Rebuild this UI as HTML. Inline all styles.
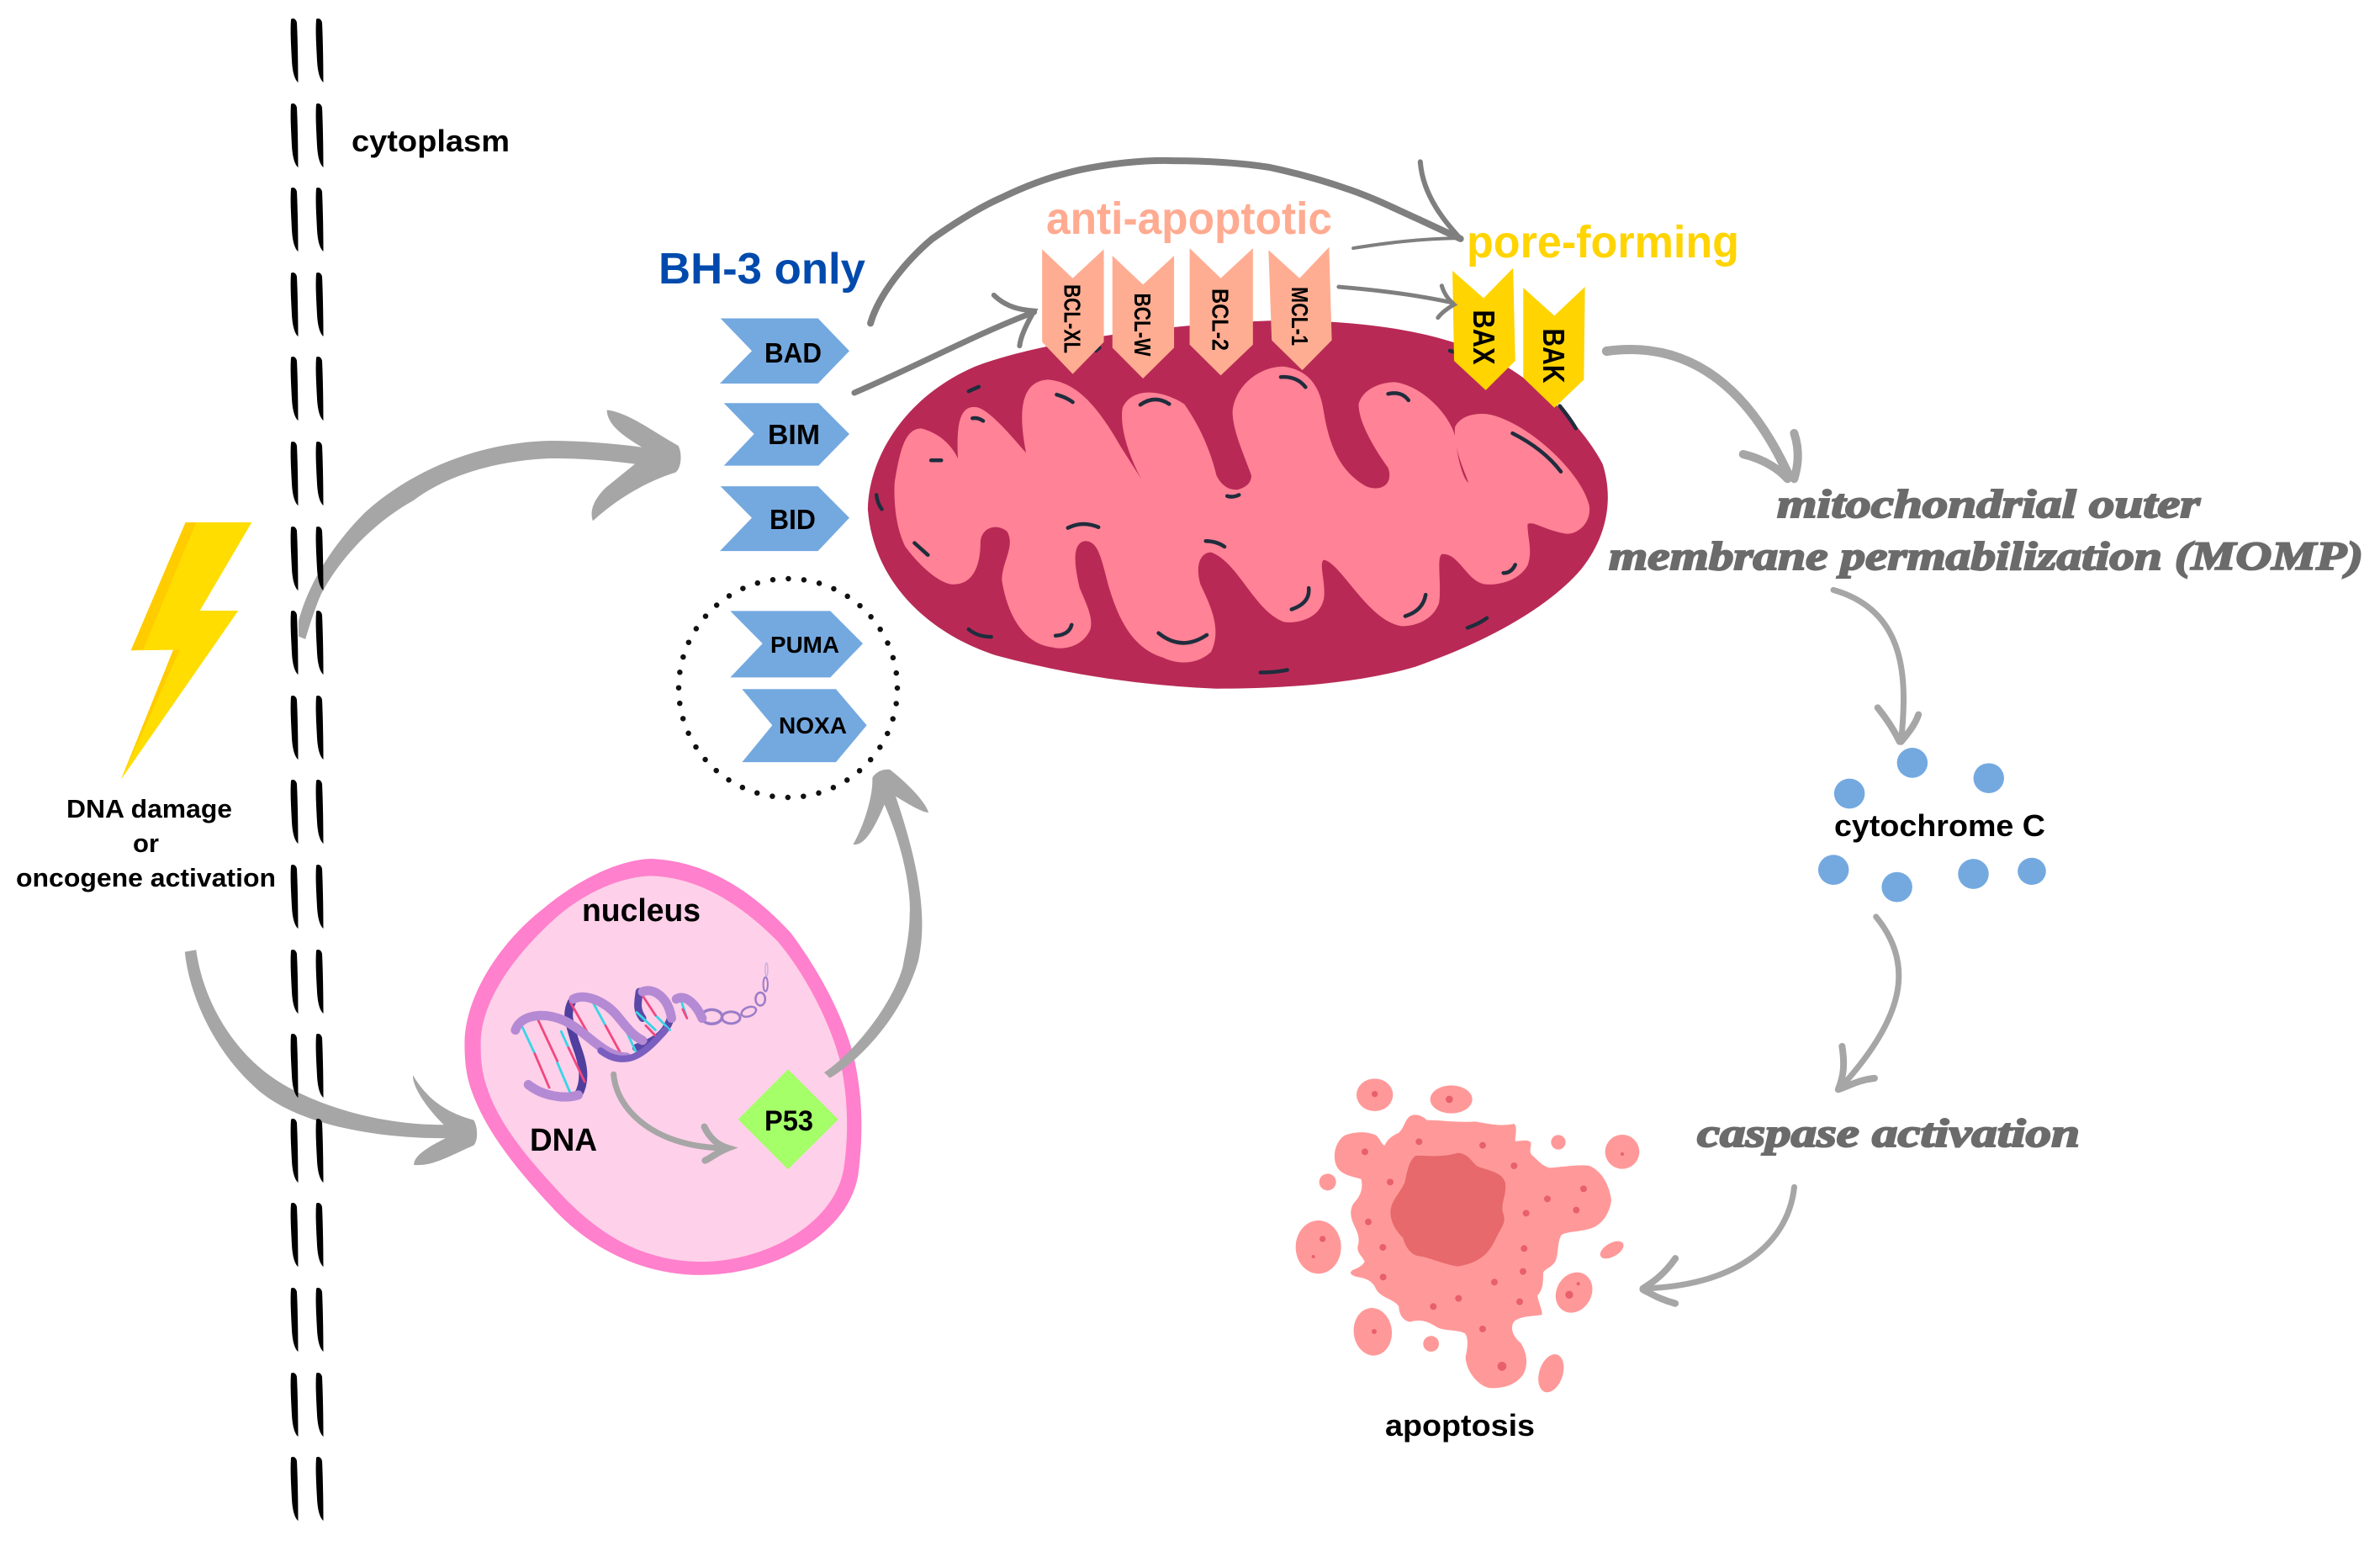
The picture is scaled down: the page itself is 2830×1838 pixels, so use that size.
<!DOCTYPE html>
<html><head><meta charset="utf-8"><style>html,body{margin:0;padding:0;background:#fff}svg{display:block}
text{font-family:"Liberation Sans",sans-serif;font-weight:700;fill:#000}
.s{font-family:"Liberation Serif",serif;font-style:italic;fill:#6b6b6b;stroke:#6b6b6b;stroke-width:2}
.ns{vector-effect:non-scaling-stroke;fill:none;stroke-linecap:round}
</style></head><body>
<svg width="2830" height="1838" viewBox="0 0 2830 1838" xmlns="http://www.w3.org/2000/svg">
<defs><path id="d" d="M1 1C3-1 7 0 8 5C9 25 9.5 55 9.5 76C7 74 3 68 2 50C1 30 0 15 1 1Z"/>
<g id="r"><use href="#d" x="345"/><use href="#d" x="375"/></g></defs>
<rect width="2830" height="1838" fill="#fff"/>

<!-- big arrows -->
<g fill="#a6a6a6">
<path transform="translate(300 480) scale(.3333)" d="M165 775C200 640 290 500 400 390C530 270 760 140 1060 132C1180 132 1290 142 1390 155C1340 125 1265 80 1265 22C1340 30 1430 100 1520 150C1535 180 1530 230 1510 245C1400 280 1300 340 1215 418C1205 390 1210 350 1260 300L1365 215C1240 198 1150 195 1060 195C820 205 660 280 575 345C440 420 320 540 245 680C215 750 190 840 190 840L165 830Z"/>
<path transform="translate(0 920) scale(.3953 .3333)" d="M556 635L590 628C610 800 690 970 810 1075C900 1155 1100 1252 1335 1252C1290 1200 1240 1120 1242 1075C1290 1170 1350 1210 1425 1235C1438 1260 1438 1310 1425 1325C1340 1370 1300 1400 1245 1395C1245 1360 1290 1330 1340 1300C1100 1300 870 1240 760 1110C650 990 570 800 556 635Z"/>
</g>

<!-- membrane -->
<g fill="#000">
<use href="#r" y="22"/><use href="#r" y="123"/><use href="#r" y="223"/><use href="#r" y="324"/><use href="#r" y="424"/><use href="#r" y="525"/><use href="#r" y="626"/><use href="#r" y="726"/><use href="#r" y="827"/><use href="#r" y="927"/><use href="#r" y="1028"/><use href="#r" y="1129"/><use href="#r" y="1229"/><use href="#r" y="1330"/><use href="#r" y="1430"/><use href="#r" y="1531"/><use href="#r" y="1632"/><use href="#r" y="1732"/>
</g>

<!-- lightning -->
<g transform="translate(100 450) scale(.3333)">
<polygon fill="#ffdd00" points="362,513 598,513 413,828 550,828 132,1430 318,968 167,970"/>
<polygon fill="#ffcc00" points="362,513 400,513 210,968 167,970"/>
<polygon fill="#ffcc00" points="318,968 342,968 132,1430"/>
</g>

<!-- mitochondrion -->
<g transform="translate(1000 150) scale(.6378 .4464)">
<path fill="#b82a55" d="M50 1020C52 880 120 720 250 640C350 585 560 530 800 518C950 515 1080 540 1170 590C1280 650 1380 790 1420 900C1440 990 1430 1090 1380 1180C1320 1280 1210 1370 1070 1440C950 1490 800 1498 700 1498C560 1490 420 1460 290 1410C160 1350 60 1210 50 1020Z"/>
<path fill="#ff8296" d="M100 950C110 860 120 805 150 805C190 820 210 860 218 885C215 800 220 745 250 748C275 750 320 830 345 870C330 760 335 680 385 675C440 680 480 750 520 850L560 940C530 860 520 790 525 750C540 700 590 695 640 740C670 800 690 870 700 930C710 960 725 970 740 968C760 960 765 945 765 930C750 870 730 810 730 760C735 690 780 640 825 640C880 650 895 710 900 760C910 850 930 920 980 960C1010 975 1030 950 1020 910C995 860 965 790 965 740C975 690 1020 680 1035 682C1090 695 1140 780 1145 830C1150 890 1160 940 1170 950C1160 910 1140 850 1145 800C1160 760 1200 765 1210 768C1280 790 1380 920 1395 1010C1400 1060 1370 1090 1350 1085C1310 1075 1290 1050 1280 1060C1280 1100 1290 1130 1280 1170C1260 1220 1210 1225 1195 1218C1165 1205 1150 1135 1120 1140C1110 1150 1120 1220 1115 1270C1100 1330 1050 1335 1040 1330C980 1310 930 1160 900 1155C890 1165 905 1220 900 1260C890 1320 840 1325 825 1320C770 1290 740 1160 690 1135C670 1135 660 1170 670 1220C690 1280 710 1340 690 1400C660 1440 620 1430 600 1415C540 1390 515 1300 500 1230C485 1150 480 1105 455 1105C430 1110 435 1170 445 1230C460 1280 470 1310 465 1340C450 1390 410 1395 395 1388C340 1380 310 1300 300 1210C300 1160 325 1120 310 1080C290 1055 260 1070 260 1110C260 1160 250 1225 205 1220C170 1210 130 1140 120 1120C95 1050 100 950 100 950Z"/>
<g class="dashes" stroke="#1f2d3d">
<path class="ns" stroke-width="4.5" d="M238 706L257 694M402 715Q420 722 432 735M245 778Q255 775 265 785M168 890L187 890M558 742Q585 715 612 740M820 668Q850 665 866 695M1020 713Q1045 705 1058 730M1252 818Q1310 860 1342 920M1340 745Q1360 780 1370 805M66 982Q68 1005 76 1020M137 1110L162 1142M423 1070Q450 1050 480 1068M680 1105Q700 1105 715 1120M720 985Q730 990 742 982M1135 598L1145 602M475 598L482 590M1235 1190Q1250 1190 1257 1168M872 1230Q875 1270 840 1287M1090 1248Q1085 1290 1052 1305M400 1357Q425 1355 430 1328M592 1350Q635 1400 682 1355M238 1340Q255 1360 280 1360M782 1455Q810 1455 832 1448M1168 1336Q1190 1325 1204 1310"/>
</g>
<g fill="#ffad92">
<polygon points="375,328 432,405 490,328 490,575 432,660 375,575"/>
<polygon points="506,345 563,422 621,345 621,590 563,672 506,590"/>
<polygon points="650,325 708,405 768,325 768,582 708,664 650,582"/>
<polygon points="797,330 855,405 910,322 915,570 860,650 803,570"/>
</g>
<g fill="#ffd400">
<polygon points="1140,385 1198,458 1253,378 1257,625 1202,703 1143,625"/>
<polygon points="1272,430 1330,505 1387,428 1385,675 1330,750 1272,670"/>
</g>
<!-- thin dark arrows -->
<g stroke="#7f7f7f">
<path class="ns" stroke-width="8" d="M55 525C70 450 120 360 170 300C220 250 260 215 300 190C350 155 400 130 450 115C510 98 570 90 620 92C680 92 750 98 800 110C850 125 900 145 950 170C1000 195 1040 225 1080 250L1155 300"/>
<path class="ns" stroke-width="6" d="M1080 95C1085 190 1130 260 1155 300"/>
<path class="ns" stroke-width="4" d="M955 325C1020 310 1080 300 1155 298"/>
<path class="ns" stroke-width="7" d="M25 710C140 640 250 555 360 495"/>
<path class="ns" stroke-width="6" d="M285 450C310 485 340 490 360 492C345 530 335 560 333 585"/>
<path class="ns" stroke-width="5" d="M928 428C1030 440 1090 455 1140 470"/>
<path class="ns" stroke-width="5" d="M1120 425C1125 450 1135 465 1143 475C1130 485 1118 500 1113 510"/>
</g>
</g>

<!-- chevron labels -->
<g font-size="28" text-anchor="middle">
<text transform="translate(1275.5 379) rotate(90)" y="10" textLength="82" lengthAdjust="spacingAndGlyphs">BCL-XL</text>
<text transform="translate(1359 386) rotate(90)" y="10" textLength="75" lengthAdjust="spacingAndGlyphs">BCL-W</text>
<text transform="translate(1451.5 380) rotate(90)" y="10" textLength="74" lengthAdjust="spacingAndGlyphs">BCL-2</text>
<text transform="translate(1546 376) rotate(90)" y="10" textLength="70" lengthAdjust="spacingAndGlyphs">MCL-1</text>
<text font-size="36" transform="translate(1765 401) rotate(90)" y="13" textLength="65" lengthAdjust="spacingAndGlyphs">BAX</text>
<text font-size="36" transform="translate(1848 423) rotate(90)" y="13" textLength="65" lengthAdjust="spacingAndGlyphs">BAK</text>
</g>
<text x="1244" y="278" font-size="54" style="fill:#ffab91" textLength="340" lengthAdjust="spacingAndGlyphs">anti-apoptotic</text>
<text x="1744" y="306" font-size="54" style="fill:#ffd400" textLength="324" lengthAdjust="spacingAndGlyphs">pore-forming</text>
<text x="783" y="337" font-size="52" style="fill:#004aad" textLength="246" lengthAdjust="spacingAndGlyphs">BH-3 only</text>

<!-- BH3 chevrons -->
<g transform="translate(780 350) scale(.3333 .3953)" fill="#74a9e0">
<polygon points="230,72 578,72 690,170 578,268 228,268 342,170"/>
<polygon points="242,327 580,327 690,420 580,515 242,515 350,420"/>
<polygon points="230,577 578,577 690,672 578,772 228,772 342,672"/>
<polygon points="265,952 622,952 738,1050 622,1152 265,1152 380,1050"/>
<polygon points="307,1187 642,1187 752,1296 642,1407 307,1407 415,1296"/>
</g>
<text x="909" y="431" font-size="33" textLength="68" lengthAdjust="spacingAndGlyphs">BAD</text>
<text x="913" y="528" font-size="33" textLength="62" lengthAdjust="spacingAndGlyphs">BIM</text>
<text x="915" y="629" font-size="33" textLength="55" lengthAdjust="spacingAndGlyphs">BID</text>
<text x="916" y="776" font-size="28" textLength="82" lengthAdjust="spacingAndGlyphs">PUMA</text>
<text x="926" y="872" font-size="28" textLength="81" lengthAdjust="spacingAndGlyphs">NOXA</text>
<circle cx="937" cy="818" r="130" fill="none" stroke="#111" stroke-width="6.5" stroke-linecap="round" stroke-dasharray="0 18.57"/>

<!-- nucleus -->
<g transform="translate(500 1000) scale(.3827 .3509)">
<path fill="#ff80cc" d="M137 680C140 520 250 340 380 230C500 120 630 60 720 60C900 70 1040 180 1150 310C1260 470 1330 640 1350 750C1375 880 1375 1000 1360 1130C1330 1330 1100 1470 870 1470C700 1470 530 1390 400 1230C280 1090 200 970 160 850C140 790 137 740 137 680Z"/>
<path fill="#ffd0e9" d="M187 680C190 540 290 390 410 270C510 170 630 118 720 118C880 125 1010 230 1110 340C1210 470 1280 640 1305 750C1330 880 1330 1000 1315 1110C1285 1300 1070 1425 870 1425C710 1425 570 1350 440 1200C320 1060 240 950 205 830C190 780 187 740 187 680Z"/>
<polygon fill="#a4ff68" points="1142,773 1298,943 1142,1112 987,943"/>
<!-- DNA helix -->
<g>
<g fill="none" stroke="#9a7cc8" stroke-width="7">
<ellipse cx="905" cy="595" rx="32" ry="24" class="ns" stroke-width="3.5"/>
<ellipse cx="965" cy="598" rx="28" ry="20" class="ns" stroke-width="3"/>
<ellipse cx="1020" cy="578" rx="24" ry="15" transform="rotate(-25 1020 578)" class="ns" stroke-width="2.5"/>
<ellipse cx="1056" cy="535" rx="15" ry="22" class="ns" stroke-width="2.5"/>
<ellipse cx="1072" cy="485" rx="7" ry="24" class="ns" stroke-width="2"/>
<ellipse cx="1075" cy="435" rx="4" ry="22" stroke="#c9b3e0" class="ns" stroke-width="1.5"/>
</g>
<path class="ns" stroke="#4f3f9e" stroke-width="10" d="M490 860C520 800 500 740 480 680C465 620 450 590 470 545"/>
<path class="ns" stroke="#5a48a8" stroke-width="9" d="M670 700C710 680 760 670 780 590M680 510C675 550 670 570 690 600"/>
<path class="ns" stroke-width="2.8" stroke="#35d6e6" d="M310 615L355 720M425 750L468 860M437 645L460 700M535 545L575 625M625 610L670 715M672 580L730 640M730 590L775 640M805 525L825 590"/>
<path class="ns" stroke-width="2.8" stroke="#f2477f" d="M355 720L400 835M365 605L425 745M460 700L510 815M465 545L525 660M575 625L625 725M685 515L730 590M700 625L735 665M815 570L828 600"/>
<path class="ns" stroke="#b48ad4" stroke-width="11" d="M295 640C310 590 380 575 450 610C520 650 570 730 640 732"/>
<path class="ns" stroke="#7a5fc0" stroke-width="8" d="M560 710C590 735 620 742 650 735C690 725 730 680 760 640"/>
<path class="ns" stroke="#b48ad4" stroke-width="11" d="M335 825C380 865 450 875 490 860M475 535C510 515 570 540 610 590C640 630 660 660 690 675M690 510C725 495 770 530 780 600M795 535C825 515 860 560 875 600"/>
</g>
<path class="ns" stroke="#a6a6a6" stroke-width="7" d="M600 790C610 920 740 1040 950 1040"/>
<path class="ns" stroke="#a6a6a6" stroke-width="8" d="M882 968C900 1010 925 1030 955 1040C920 1055 900 1075 884 1082"/>
</g>
<path fill="#a6a6a6" transform="translate(980 880) scale(.3333)" d="M0 1185L20 1205C100 1160 270 1010 335 790C370 640 340 450 255 200C270 210 350 260 372 258C370 240 330 180 235 105C200 100 175 125 172 135C175 200 140 310 103 372C130 375 160 360 215 230C290 400 310 560 305 620C305 700 285 780 280 810C240 950 100 1120 0 1185Z"/>
<text x="692" y="1095" font-size="38" textLength="141" lengthAdjust="spacingAndGlyphs">nucleus</text>
<text x="630" y="1368" font-size="38" textLength="80" lengthAdjust="spacingAndGlyphs">DNA</text>
<text x="909" y="1344" font-size="34" textLength="58" lengthAdjust="spacingAndGlyphs">P53</text>

<!-- left labels -->
<text x="418" y="180" font-size="36" textLength="188" lengthAdjust="spacingAndGlyphs">cytoplasm</text>
<text x="79" y="972" font-size="31" textLength="197" lengthAdjust="spacingAndGlyphs">DNA damage</text>
<text x="158" y="1013" font-size="31" textLength="31" lengthAdjust="spacingAndGlyphs">or</text>
<text x="19" y="1054" font-size="31" textLength="309" lengthAdjust="spacingAndGlyphs">oncogene activation</text>

<!-- right arrows -->
<g transform="translate(1880 380) scale(.6061 .3571)" stroke="#a6a6a6">
<path class="ns" stroke-width="11" d="M50 105C200 70 320 200 405 510"/>
<path class="ns" stroke-width="10" d="M318 448C360 465 390 500 405 530M418 378C430 440 425 490 418 530"/>
<path class="ns" stroke-width="7" d="M495 900C640 970 640 1200 628 1400"/>
<path class="ns" stroke-width="8" d="M582 1292C600 1330 615 1370 625 1405M662 1315C655 1350 640 1380 628 1405"/>
</g>
<g transform="translate(1950 860) scale(.3509 .4464)" stroke="#a6a6a6">
<path class="ns" stroke-width="7" d="M800 515C930 640 900 780 680 970"/>
<path class="ns" stroke-width="8" d="M685 860C695 910 690 940 672 975M795 945C740 950 710 965 672 975"/>
<path class="ns" stroke-width="7" d="M523 1235C500 1400 300 1500 10 1505"/>
<path class="ns" stroke-width="8" d="M120 1425C80 1470 40 1490 10 1505M120 1545C70 1535 40 1520 10 1508"/>
<g fill="#74a9e0" stroke="none">
<ellipse cx="923" cy="105" rx="52" ry="40"/><ellipse cx="1182" cy="146" rx="52" ry="40"/><ellipse cx="710" cy="187" rx="52" ry="40"/><ellipse cx="656" cy="390" rx="52" ry="40"/><ellipse cx="871" cy="436" rx="52" ry="40"/><ellipse cx="1130" cy="401" rx="52" ry="40"/><ellipse cx="1328" cy="394" rx="48" ry="36"/>
</g>
</g>
<text x="2181" y="994" font-size="36" textLength="251" lengthAdjust="spacingAndGlyphs">cytochrome C</text>
<text class="s" x="2113" y="615" font-size="48" textLength="503" lengthAdjust="spacingAndGlyphs">mitochondrial outer</text>
<text class="s" x="1913" y="677" font-size="48" textLength="897" lengthAdjust="spacingAndGlyphs">membrane permabilization (MOMP)</text>
<text class="s" x="2018" y="1363" font-size="48" textLength="455" lengthAdjust="spacingAndGlyphs">caspase activation</text>

<!-- apoptosis -->
<g transform="translate(1500 1250) scale(.3333)">
<g fill="#ff9999">
<path d="M525 235C540 220 570 225 590 245C640 245 700 255 760 250C800 255 850 270 900 258C915 265 905 300 905 320C925 320 960 310 962 330C960 345 955 360 965 370C985 385 1000 410 1030 415C1080 412 1130 402 1170 408C1210 425 1240 470 1248 530C1245 570 1220 610 1190 625C1150 645 1090 640 1070 655C1055 680 1060 720 1050 745C1040 770 1010 775 1005 790C1005 820 1005 850 985 870C985 890 1005 925 1000 940C960 945 920 945 900 965C885 990 900 1020 925 1040C950 1080 950 1120 935 1150C910 1190 860 1205 810 1200C770 1190 730 1140 728 1090C735 1060 740 1020 725 1005C690 990 650 1000 620 980C590 960 560 955 530 965C500 960 490 930 490 910C470 880 420 880 405 840C390 815 370 810 345 805C320 800 310 790 325 780C340 775 360 765 368 750C360 730 335 715 345 690C350 670 345 650 335 630C320 600 310 570 330 540C350 520 365 490 355 455C320 445 270 440 262 390C255 350 275 310 300 298C340 285 380 285 410 300C425 315 430 335 440 335C450 310 470 300 490 290C510 270 510 250 525 235Z"/>
<ellipse cx="404" cy="155" rx="65" ry="58"/><ellipse cx="677" cy="171" rx="75" ry="50"/><circle cx="1059" cy="324" r="26"/><circle cx="1287" cy="358" r="61"/><circle cx="236" cy="466" r="30"/><ellipse cx="203" cy="698" rx="81" ry="95"/><ellipse cx="1250" cy="708" rx="46" ry="24" transform="rotate(-30 1250 708)"/><ellipse cx="1115" cy="860" rx="62" ry="75" transform="rotate(30 1115 860)"/><ellipse cx="397" cy="1000" rx="68" ry="85" transform="rotate(-6 397 1000)"/><circle cx="605" cy="1043" r="28"/><ellipse cx="1033" cy="1148" rx="42" ry="70" transform="rotate(18 1033 1148)"/>
</g>
<path fill="#e8696b" d="M550 372C590 370 640 380 700 362C740 365 750 395 770 410C810 425 860 430 870 470C875 510 855 540 860 570C875 610 860 620 840 660C820 700 800 750 700 767C650 760 600 735 560 730C530 725 510 690 505 665C480 640 460 610 460 570C465 530 490 510 510 470C520 430 525 390 550 372Z"/>
<g fill="#e8606a">
<circle cx="404" cy="152" r="11"/><circle cx="670" cy="171" r="13"/><circle cx="1287" cy="366" r="6"/><circle cx="562" cy="322" r="12"/><circle cx="789" cy="335" r="12"/><circle cx="901" cy="408" r="12"/><circle cx="369" cy="358" r="12"/><circle cx="459" cy="466" r="12"/><circle cx="1149" cy="490" r="12"/><circle cx="1020" cy="526" r="12"/><circle cx="944" cy="577" r="12"/><circle cx="1123" cy="566" r="12"/><circle cx="381" cy="608" r="12"/><circle cx="218" cy="669" r="11"/><circle cx="185" cy="732" r="6"/><circle cx="433" cy="699" r="12"/><circle cx="937" cy="703" r="12"/><circle cx="933" cy="785" r="12"/><circle cx="434" cy="805" r="12"/><circle cx="831" cy="823" r="12"/><circle cx="1130" cy="829" r="6"/><circle cx="1098" cy="868" r="14"/><circle cx="703" cy="881" r="12"/><circle cx="921" cy="893" r="12"/><circle cx="613" cy="910" r="12"/><circle cx="789" cy="990" r="12"/><circle cx="402" cy="999" r="9"/><circle cx="858" cy="1123" r="16"/>
</g>
</g>
<text x="1647" y="1707" font-size="36" textLength="178" lengthAdjust="spacingAndGlyphs">apoptosis</text>
</svg>
</body></html>
